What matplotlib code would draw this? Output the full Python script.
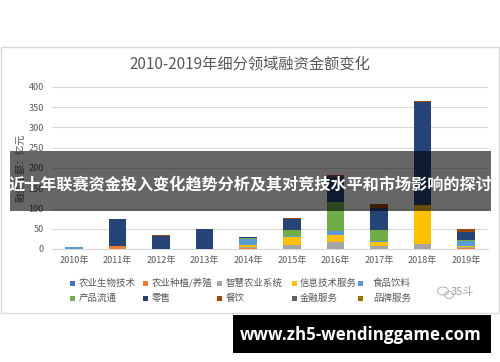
import matplotlib
matplotlib.use('Agg')
import matplotlib.pyplot as plt
from matplotlib.patches import Rectangle
import numpy as np

plt.rcParams['font.family'] = ['Noto Sans CJK SC', 'DejaVu Sans']

# ---------------- data ----------------
years = ['2010年', '2011年', '2012年', '2013年', '2014年',
         '2015年', '2016年', '2017年', '2018年', '2019年']
series_names = ['农业生物技术', '农业种植/养殖', '智慧农业系统', '信息技术服务', '食品饮料',
                '产品流通', '零售', '餐饮', '金融服务', '品牌服务']
colors = ['#4472C4', '#ED7D31', '#A5A5A5', '#FFC000', '#5B9BD5',
          '#70AD47', '#264478', '#9E480E', '#636363', '#997300']

agri_biotech = [1, 0, 0, 0, 0, 0, 0, 0, 0, 1]
agri_farming = [0, 7, 0, 0, 2, 1, 1, 1, 1, 1]
smart_agri   = [0, 0, 0, 0, 2, 10, 17, 6, 12, 2]
it_services  = [0, 0, 0, 0, 5, 19, 16.5, 10, 96, 3]
food_drink   = [4, 0, 1, 0, 15, 1, 10, 2.5, 0, 13]
circulation  = [0, 0, 0, 0, 2, 15, 72, 27, 0, 3]
retail       = [0, 66, 32, 50, 3, 27, 62, 53.5, 253, 20]
catering     = [0, 0, 1, 0, 1, 4, 4, 10.5, 3.5, 5.5]
finance      = [0, 0, 0, 0, 0, 0, 0, 0, 0, 0]
brand        = [0, 1.5, 0, 0, 0, 0, 0, 0, 0, 0]

series_values = [agri_biotech, agri_farming, smart_agri, it_services, food_drink,
                 circulation, retail, catering, finance, brand]

title = '2010-2019年细分领域融资金额变化'
ylabel = '融资金额：亿元'
banner_text = '近十年联赛资金投入变化趋势分析及其对竞技水平和市场影响的探讨'
url_text = 'www.zh5-wendinggame.com'
y_ticks = [0, 50, 100, 150, 200, 250, 300, 350, 400]

# ---------------- figure ----------------
W, H = 500, 362
fig = plt.figure(figsize=(5, 3.62), dpi=100)
fig.patch.set_facecolor('white')

def fx(px):
    return px / W

def fy(py):
    return 1 - py / H

# chart frame
fig.patches.append(Rectangle((fx(0.5), fy(313)), fx(498.5), (313 - 47) / H,
                             transform=fig.transFigure, fill=False,
                             edgecolor='#D9D9D9', linewidth=1.0, zorder=0))

ax = fig.add_axes([fx(52), fy(249), fx(488 - 52), (249 - 87) / H])
ax.set_facecolor('white')
x = np.arange(len(years))
bottom = np.zeros(len(years))
for name, vals, c in zip(series_names, series_values, colors):
    v = np.array(vals, dtype=float)
    ax.bar(x, v, width=0.4, bottom=bottom, color=c, label=name, zorder=3, linewidth=0)
    bottom += v

ax.set_xlim(-0.5, len(years) - 0.5)
ax.set_ylim(0, 400)
ax.set_yticks(y_ticks)
ax.set_xticks(x)
ax.set_xticklabels(years)
ax.tick_params(axis='both', length=0, labelsize=6.5, labelcolor='#595959')
ax.tick_params(axis='y', pad=6)
ax.tick_params(axis='x', pad=5)
ax.grid(axis='y', color='#D9D9D9', linewidth=0.8, zorder=0)
for s in ['top', 'right', 'left']:
    ax.spines[s].set_visible(False)
ax.spines['bottom'].set_color('#D9D9D9')
ax.spines['bottom'].set_linewidth(0.8)
ax.set_axisbelow(True)

fig.text(0.5, fy(64), title, ha='center', va='center', fontsize=11, color='#595959')
fig.text(fx(20), fy(168), ylabel, ha='center', va='center', rotation=90,
         fontsize=7, color='#595959')

# legend (manual layout)
col_marker = [70, 143, 217, 292, 358]
col_text = [79, 152, 226, 300, 373]
row_y = [283, 298]
for i, (name, c) in enumerate(zip(series_names, colors)):
    r, col = divmod(i, 5)
    mx = col_marker[col]
    my = row_y[r]
    fig.patches.append(Rectangle((fx(mx), fy(my + 2.5)), fx(5), 5 / H,
                                 transform=fig.transFigure, facecolor=c,
                                 edgecolor='none'))
    fig.text(fx(col_text[col]), fy(my), name, ha='left', va='center',
             fontsize=6.8, color='#595959')

# watermark
fig.text(fx(462), fy(292), '35斗', ha='center', va='center', fontsize=8, color='#A0A0A0')
fig.patches.append(matplotlib.patches.Ellipse((fx(443), fy(291)), fx(11), 8 / H,
                                              transform=fig.transFigure, fill=False,
                                              edgecolor='#B0B0B0', linewidth=0.7))
fig.patches.append(matplotlib.patches.Ellipse((fx(449), fy(295)), fx(9), 7 / H,
                                              transform=fig.transFigure, fill=False,
                                              edgecolor='#B0B0B0', linewidth=0.7))

# overlay banner
fig.patches.append(Rectangle((fx(10), fy(211)), fx(491 - 10), (211 - 151) / H,
                             transform=fig.transFigure, facecolor='black',
                             alpha=0.6, edgecolor='none', zorder=10))
fig.text(fx(250.5), fy(184), banner_text, ha='center', va='center', fontsize=11.6,
         color='white', fontweight='bold', zorder=11)

# bottom url box
fig.patches.append(Rectangle((fx(233), fy(353)), fx(491 - 233), (353 - 315) / H,
                             transform=fig.transFigure, facecolor='black',
                             edgecolor='none', zorder=10))
fig.text(fx(361), fy(335), url_text, ha='center', va='center', fontsize=12.2,
         color='white', fontweight='bold', family=['Open Sans', 'DejaVu Sans'], zorder=11)

fig.savefig('out.png', dpi=100, facecolor='white')
